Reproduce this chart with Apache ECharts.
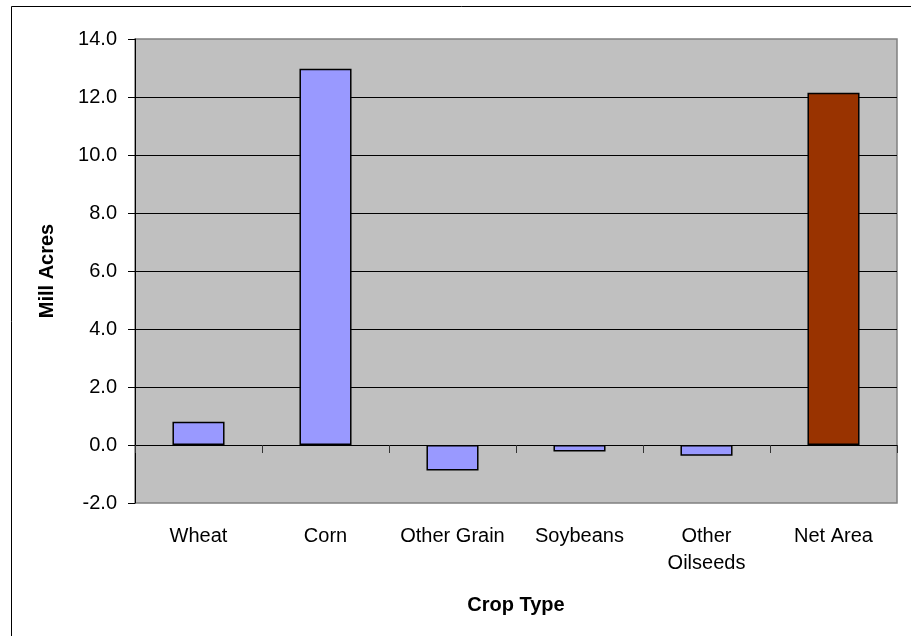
<!DOCTYPE html>
<html>
<head>
<meta charset="utf-8">
<script src="https://cdn.jsdelivr.net/npm/echarts@6/dist/echarts.min.js"></script>
<style>
  html, body { margin: 0; padding: 0; background: #ffffff; }
  #chart { width: 911px; height: 636px; }
</style>
</head>
<body>
<div id="chart"></div>
<script>
// Change in planted area by crop (million acres)
const categories = ['Wheat', 'Corn', 'Other Grain', 'Soybeans', 'Other\nOilseeds', 'Net Area'];
const acreChange = [0.80, 12.97, -0.88, -0.22, -0.37, 12.15];
const yTicks = { min: -2, max: 14, step: 2 };

const FONT = '"Liberation Sans", Arial, sans-serif';
const cropColor = '#9999FF';
const netColor = '#993300';

const chart = echarts.init(document.getElementById('chart'), null, { renderer: 'canvas' });

chart.setOption({
  animation: false,
  backgroundColor: '#ffffff',
  graphic: [{
    type: 'rect',
    shape: { x: 11.5, y: 6.5, width: 1000, height: 1000 },
    style: { fill: 'none', stroke: '#000000', lineWidth: 1 },
    silent: true
  }],
  grid: {
    left: 135, top: 39, width: 762, height: 464,
    show: true,
    backgroundColor: '#C0C0C0',
    borderColor: '#808080',
    borderWidth: 1.5
  },
  xAxis: [
    {
      // category labels along the bottom edge
      type: 'category',
      data: categories,
      position: 'bottom',
      axisLine: { show: false, onZero: false },
      axisTick: { show: false },
      axisLabel: {
        color: '#000000', fontFamily: FONT, fontSize: 20, lineHeight: 27,
        margin: 20, interval: 0
      },
      name: 'Crop Type',
      nameLocation: 'middle',
      nameGap: 92,
      nameTextStyle: { color: '#000000', fontFamily: FONT, fontSize: 20, fontWeight: 'bold' }
    },
    {
      // zero baseline with ticks between categories
      type: 'category',
      data: categories,
      position: 'bottom',
      axisLine: { show: true, onZero: true, lineStyle: { color: '#000000', width: 1 } },
      axisTick: { show: true, length: 8, lineStyle: { color: '#333333' } },
      axisLabel: { show: false }
    }
  ],
  yAxis: {
    type: 'value',
    min: yTicks.min, max: yTicks.max, interval: yTicks.step,
    axisLine: { show: true, lineStyle: { color: '#000000', width: 1 } },
    axisTick: { show: true, length: 7, lineStyle: { color: '#000000' } },
    axisLabel: {
      color: '#000000', fontFamily: FONT, fontSize: 20, margin: 18,
      formatter: v => v.toFixed(1)
    },
    splitLine: {
      show: true,
      showMinLine: false,
      showMaxLine: false,
      lineStyle: { color: '#000000', width: 1 }
    },
    name: 'Mill Acres',
    nameLocation: 'middle',
    nameRotate: 90,
    nameGap: 78,
    nameTextStyle: { color: '#000000', fontFamily: FONT, fontSize: 20, fontWeight: 'bold' }
  },
  series: [{
    type: 'bar',
    xAxisIndex: 0,
    data: acreChange.map((v, i) => ({
      value: v,
      itemStyle: { color: i === acreChange.length - 1 ? netColor : cropColor }
    })),
    barWidth: '41%',
    itemStyle: { borderColor: '#000000', borderWidth: 1.5 }
  }]
});
</script>
</body>
</html>
